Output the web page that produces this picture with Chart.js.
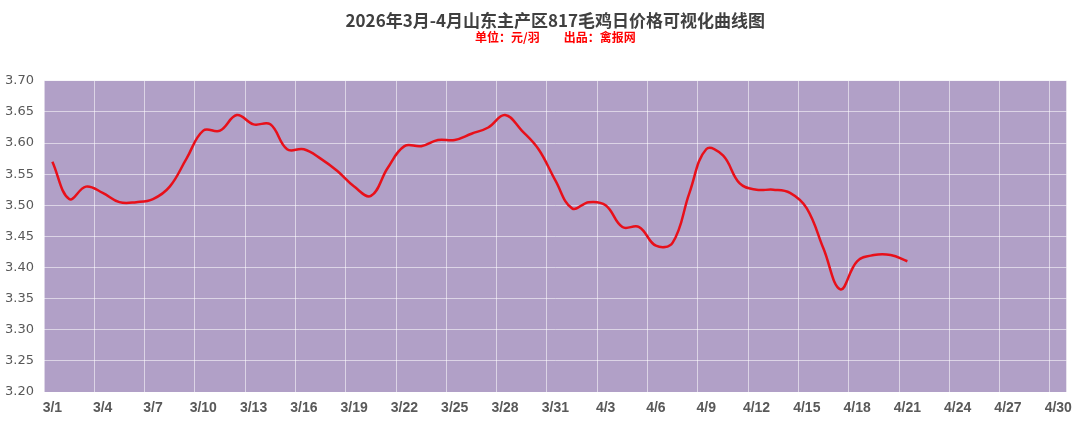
<!DOCTYPE html>
<html>
<head>
<meta charset="utf-8">
<script src="https://cdn.jsdelivr.net/npm/chart.js@4/dist/chart.umd.min.js"></script>
<style>
  html, body { margin: 0; padding: 0; background: #ffffff; }
  #wrap { width: 1080px; height: 425px; }
</style>
</head>
<body>
<div id="wrap"><canvas id="c" width="1080" height="425"></canvas></div>
<script>
const categories = [
  '3/1','3/2','3/3','3/4','3/5','3/6','3/7','3/8','3/9','3/10',
  '3/11','3/12','3/13','3/14','3/15','3/16','3/17','3/18','3/19','3/20',
  '3/21','3/22','3/23','3/24','3/25','3/26','3/27','3/28','3/29','3/30','3/31',
  '4/1','4/2','4/3','4/4','4/5','4/6','4/7','4/8','4/9','4/10',
  '4/11','4/12','4/13','4/14','4/15','4/16','4/17','4/18','4/19','4/20',
  '4/21','4/22','4/23','4/24','4/25','4/26','4/27','4/28','4/29','4/30'
];
const prices = [
  3.57, 3.51, 3.53, 3.52, 3.505, 3.505, 3.51, 3.53, 3.575, 3.62,
  3.62, 3.645, 3.63, 3.63, 3.59, 3.59, 3.575, 3.555, 3.53, 3.515,
  3.56, 3.595, 3.595, 3.605, 3.605, 3.615, 3.625, 3.645, 3.62, 3.59, 3.54,
  3.495, 3.505, 3.50, 3.465, 3.465, 3.435, 3.44, 3.52, 3.59, 3.58,
  3.535, 3.525, 3.525, 3.52, 3.495, 3.43, 3.365, 3.41, 3.42, 3.42,
  3.41
];
const yMin = 3.20, yMax = 3.70, yStep = 0.05;
const titleText = '2026年3月-4月山东主产区817毛鸡日价格可视化曲线图';
const subtitleText = '单位：元/羽\u3000\u3000出品：禽报网';

const plotBg = {
  id: 'plotBg',
  beforeDraw(chart) {
    const a = chart.chartArea, ctx = chart.ctx;
    ctx.save();
    ctx.fillStyle = '#b1a0c7';
    ctx.fillRect(a.left, a.top, a.right - a.left, a.bottom - a.top);
    ctx.restore();
  }
};

new Chart(document.getElementById('c'), {
  type: 'line',
  data: {
    labels: categories,
    datasets: [{
      data: prices,
      borderColor: '#e8101a',
      borderWidth: 2.5,
      pointRadius: 0,
      tension: 0.4,
      fill: false
    }]
  },
  options: {
    responsive: false,
    animation: false,
    devicePixelRatio: 1,
    layout: { padding: { left: 0, right: 12, top: 10, bottom: 0 } },
    plugins: {
      legend: { display: false },
      tooltip: { enabled: false },
      title: {
        display: true,
        text: titleText,
        fullSize: false,
        color: '#404040',
        font: { family: "'Noto Sans CJK SC', sans-serif", size: 17, weight: 'bold', lineHeight: 1.2 },
        padding: { top: 0, bottom: 0 }
      },
      subtitle: {
        display: true,
        text: subtitleText,
        fullSize: false,
        color: '#ff0000',
        font: { family: "'Noto Sans CJK SC', sans-serif", size: 12, weight: 'bold', lineHeight: 1.2 },
        padding: { top: 0, bottom: 36 }
      }
    },
    scales: {
      x: {
        type: 'category',
        offset: true,
        afterFit(s) { s.height = 33; },
        grid: {
          offset: true,
          drawTicks: false,
          lineWidth: 1,
          color(ctx) {
            if (ctx.index === undefined) return 'rgba(255,255,255,0.55)';
            return ctx.index % 3 === 0 ? 'rgba(255,255,255,0.55)' : 'rgba(0,0,0,0)';
          }
        },
        border: { display: false },
        ticks: {
          autoSkip: false,
          maxRotation: 0,
          minRotation: 0,
          padding: 8,
          color: '#595959',
          font: { family: "'Liberation Sans', Arial, sans-serif", size: 14, weight: 'bold' },
          callback(v, i) { return i % 3 === 0 ? categories[i] : ''; }
        }
      },
      y: {
        min: yMin,
        max: yMax,
        afterFit(s) { s.width = 44; },
        grid: {
          drawTicks: false,
          color: 'rgba(255,255,255,0.55)',
          lineWidth: 1
        },
        border: { display: false },
        ticks: {
          stepSize: yStep,
          padding: 10,
          color: '#595959',
          font: { family: "'DejaVu Sans', sans-serif", size: 13 },
          callback(v) { return Number(v).toFixed(2); }
        }
      }
    }
  },
  plugins: [plotBg]
});
</script>
</body>
</html>
